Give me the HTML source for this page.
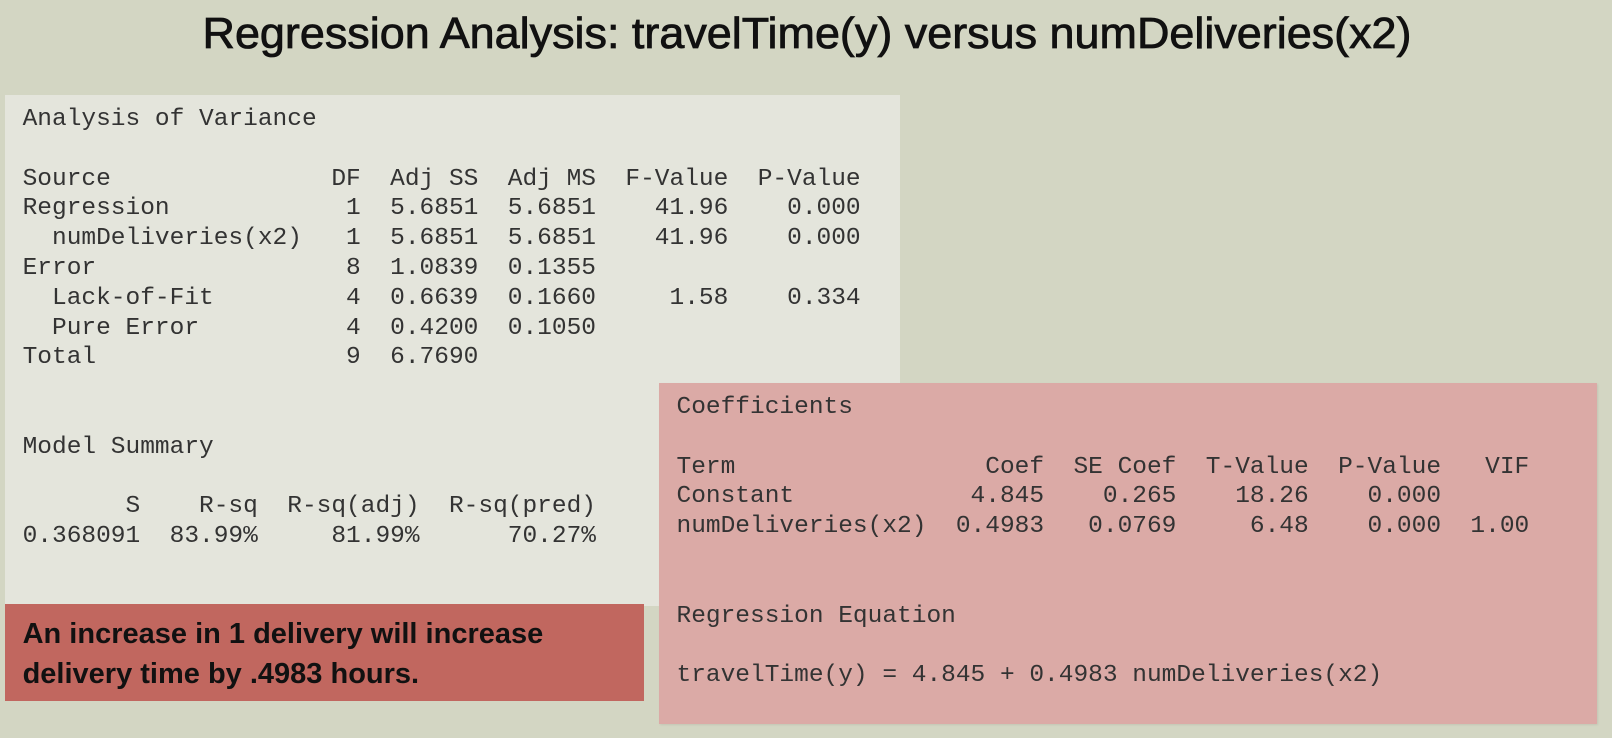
<!DOCTYPE html>
<html><head><meta charset="utf-8"><style>
html,body{margin:0;padding:0;}
body{width:1612px;height:738px;background:#d3d6c3;position:relative;overflow:hidden;}
.box{position:absolute;}
pre{margin:0;font-family:"Liberation Mono",monospace;font-size:24.5px;line-height:29.8px;color:#333;position:absolute;}
#title{position:absolute;left:0;top:0;}
</style></head><body>
<svg id="title" width="1612" height="80">
<text x="202.5" y="48" font-family="Liberation Sans, sans-serif" font-size="44" fill="#111" stroke="#111" stroke-width="0.8" textLength="1209" lengthAdjust="spacingAndGlyphs">Regression Analysis: travelTime(y) versus numDeliveries(x2)</text>
</svg>
<div class="box" style="left:5px;top:95px;width:895px;height:511px;background:#e4e5dc;">
<pre id="anova" style="left:17.6px;top:10px;"></pre>
</div>
<div class="box" style="left:659px;top:383px;width:938px;height:341px;background:#dbaaa6;box-shadow:1px 1px 2px rgba(0,0,0,0.08);">
<pre id="coef" style="left:17.5px;top:10px;"></pre>
</div>
<div class="box" style="left:5px;top:604px;width:639px;height:97px;background:#c1675f;">
<div style="position:absolute;left:17.6px;top:10px;font-family:'Liberation Sans',sans-serif;font-weight:bold;font-size:29px;line-height:40px;color:#111;">An increase in 1 delivery will increase<br>delivery time by .4983 hours.</div>
</div>
<script>
function r(a,b,c,d,e,f){return a.padEnd(21)+b.padStart(2)+c.padStart(8)+d.padStart(8)+e.padStart(9)+f.padStart(9);}
var anova=[
"Analysis of Variance","",
r("Source","DF","Adj SS","Adj MS","F-Value","P-Value"),
r("Regression","1","5.6851","5.6851","41.96","0.000"),
r("  numDeliveries(x2)","1","5.6851","5.6851","41.96","0.000"),
r("Error","8","1.0839","0.1355","",""),
r("  Lack-of-Fit","4","0.6639","0.1660","1.58","0.334"),
r("  Pure Error","4","0.4200","0.1050","",""),
r("Total","9","6.7690","","",""),
"","","Model Summary","",
"       S    R-sq  R-sq(adj)  R-sq(pred)",
"0.368091  83.99%     81.99%      70.27%"];
document.getElementById('anova').textContent=anova.map(function(s){return s.replace(/\s+$/,'');}).join('\n');
function c(a,b,d,e,f,g){return a.padEnd(19)+b.padStart(6)+d.padStart(9)+e.padStart(9)+f.padStart(9)+g.padStart(6);}
var coef=[
"Coefficients","",
c("Term","Coef","SE Coef","T-Value","P-Value","VIF"),
c("Constant","4.845","0.265","18.26","0.000",""),
c("numDeliveries(x2)","0.4983","0.0769","6.48","0.000","1.00"),
"","","Regression Equation","",
"travelTime(y) = 4.845 + 0.4983 numDeliveries(x2)"];
document.getElementById('coef').textContent=coef.map(function(s){return s.replace(/\s+$/,'');}).join('\n');
</script>
</body></html>
